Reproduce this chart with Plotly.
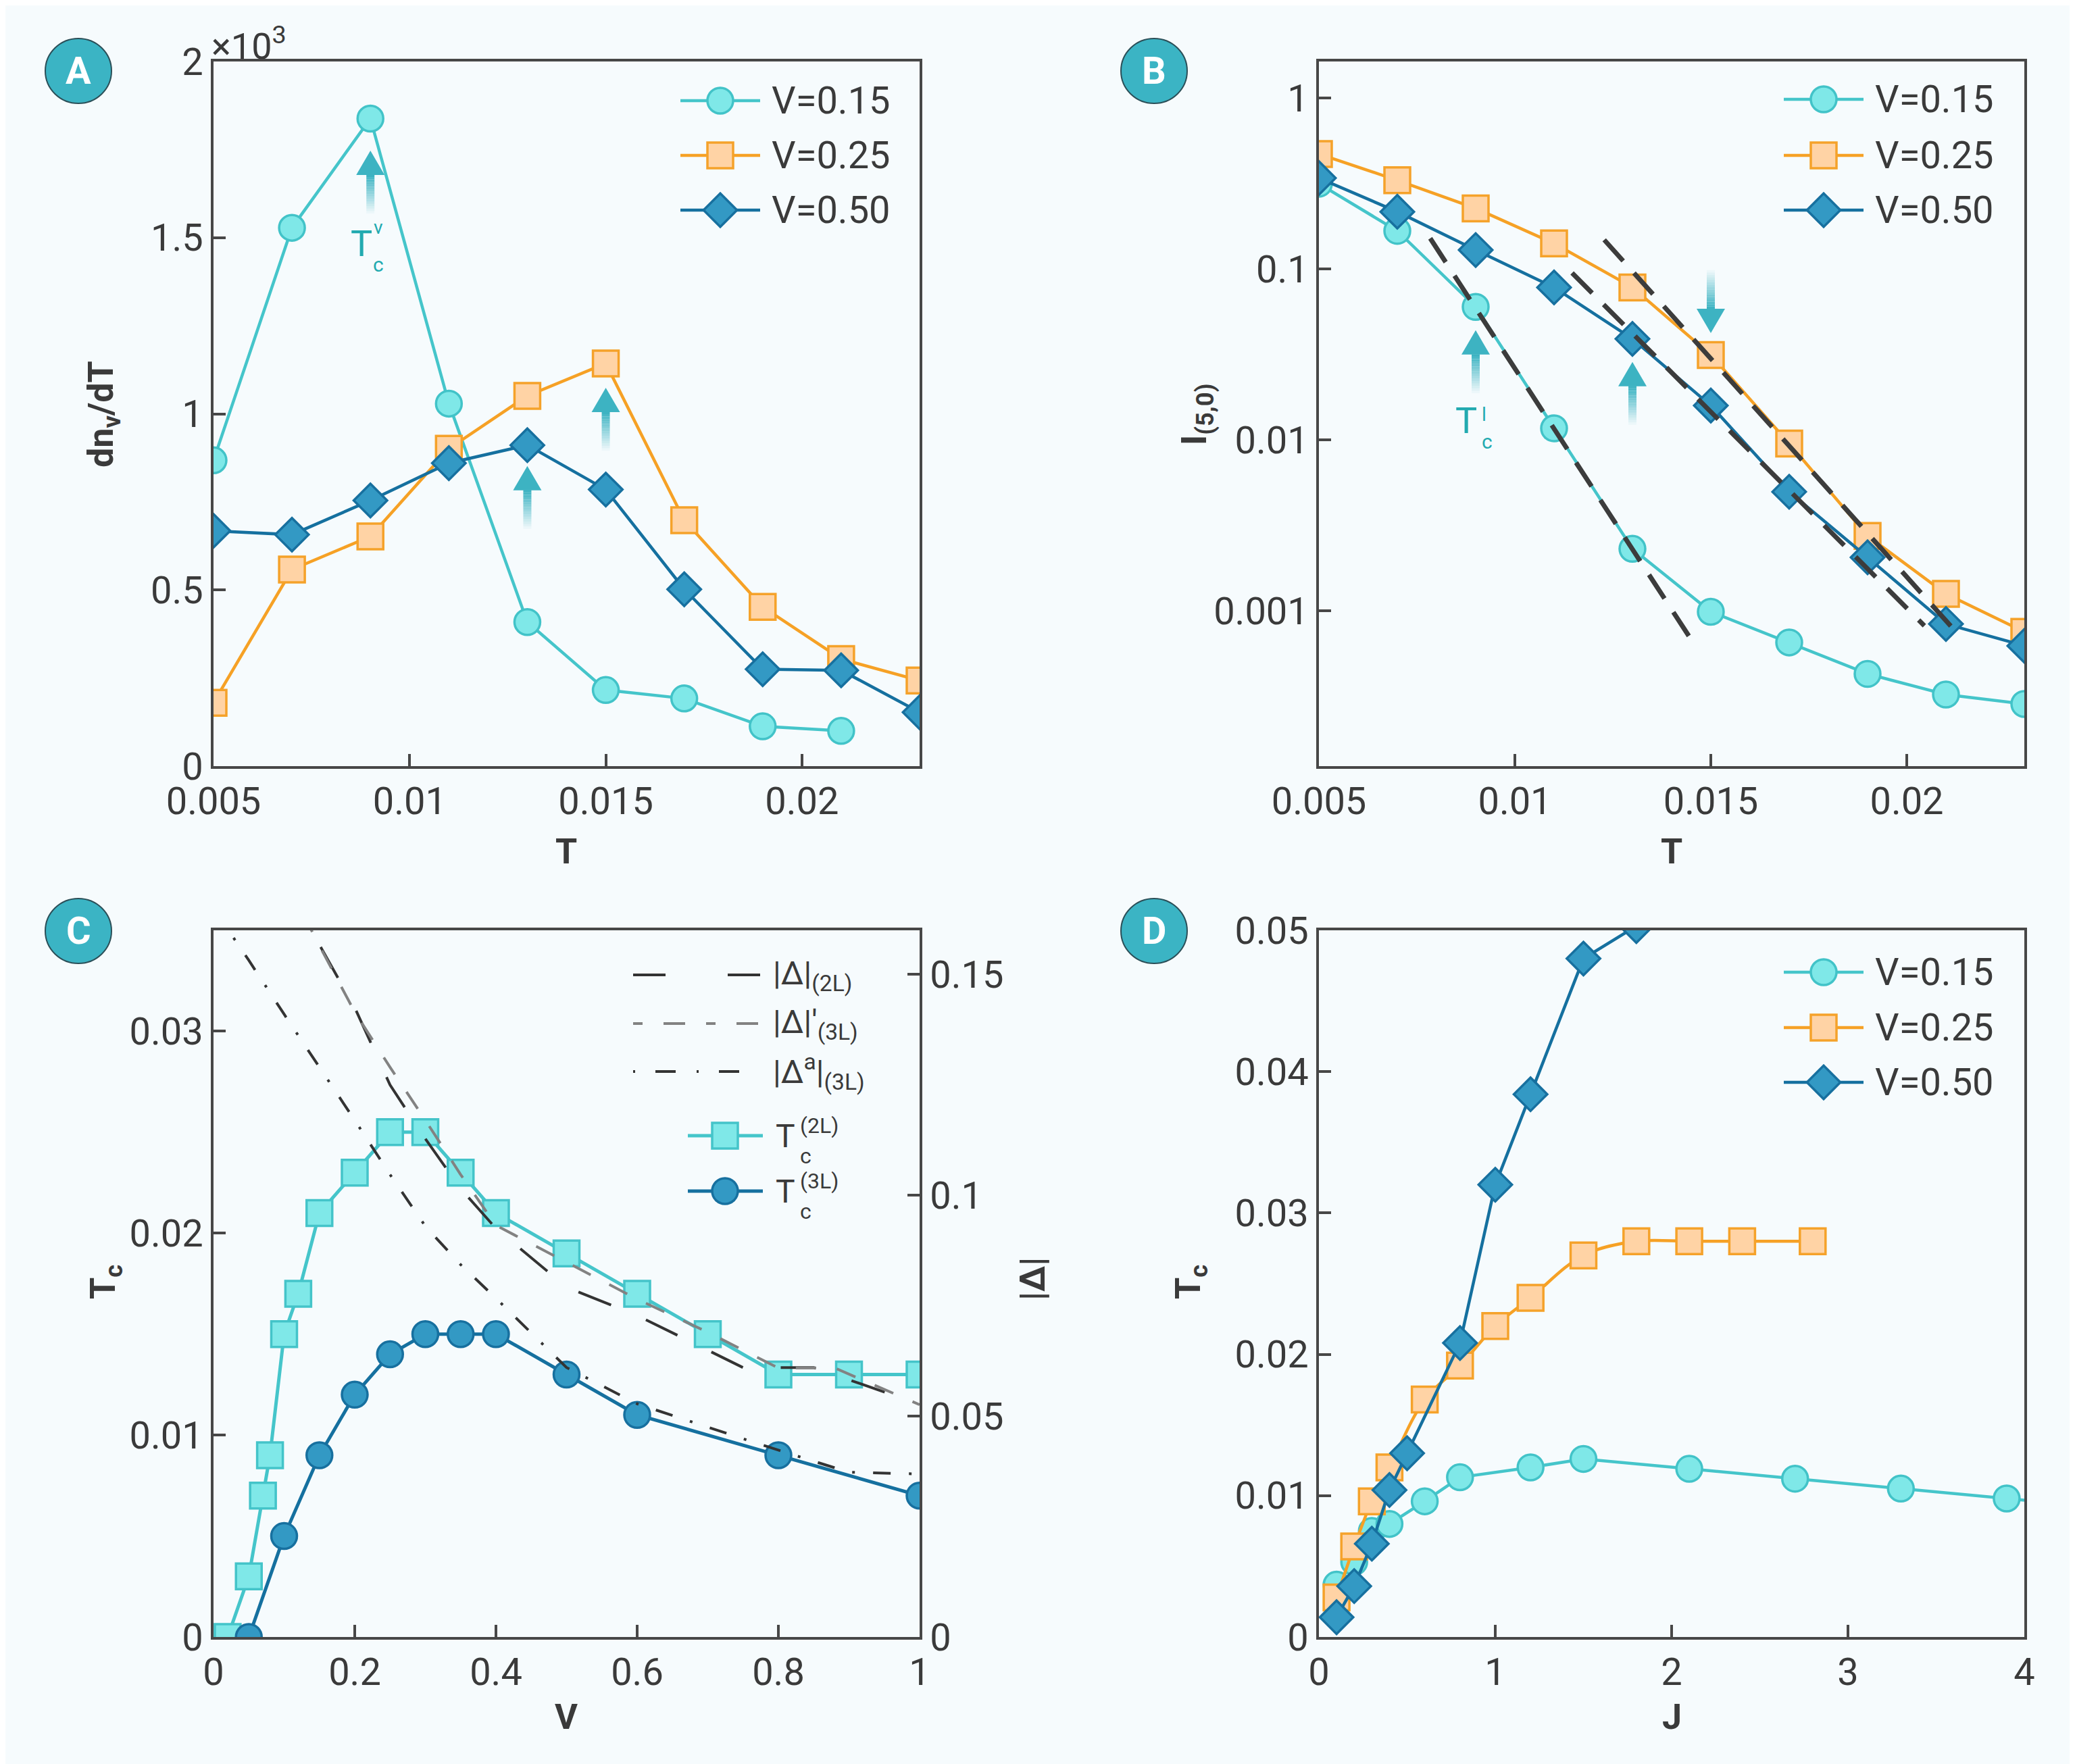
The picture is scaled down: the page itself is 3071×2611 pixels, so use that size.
import plotly.graph_objects as go

W, H = 3071, 2611

# ---------------- data ----------------
# panel A : dn_v/dT (x10^3) vs T
T_a = [0.005, 0.007, 0.009, 0.011, 0.013, 0.015, 0.017, 0.019, 0.021, 0.023]
dndT_v015 = [0.868, 1.528, 1.838, 1.029, 0.409, 0.216, 0.192, 0.113, 0.100]
dndT_v025 = [0.180, 0.558, 0.652, 0.901, 1.051, 1.143, 0.698, 0.452, 0.304, 0.243]
dndT_v050 = [0.668, 0.657, 0.754, 0.860, 0.911, 0.785, 0.502, 0.275, 0.272, 0.153]

# panel B : I_(5,0) vs T (log)
T_b = [0.005, 0.007, 0.009, 0.011, 0.013, 0.015, 0.017, 0.019, 0.021, 0.023]
I_v015 = [0.315, 0.167, 0.060, 0.0117, 0.00231, 0.00099, 0.000655, 0.000429, 0.000325, 0.000286]
I_v025 = [0.47, 0.33, 0.226, 0.141, 0.078, 0.0314, 0.00953, 0.00275, 0.00126, 0.000755]
I_v050 = [0.34, 0.216, 0.129, 0.078, 0.039, 0.0159, 0.00498, 0.00206, 0.00084, 0.000626]
fit1_T = [0.00784, 0.01447]
fit1_I = [0.151, 0.000697]
fit2_T = [0.01146, 0.02045]
fit2_I = [0.0948, 0.00082]
fit3_T = [0.01228, 0.02116]
fit3_I = [0.148, 0.00080]

# panel C : Tc vs V and gap |Delta| vs V
V_2L = [0.02, 0.05, 0.07, 0.08, 0.1, 0.12, 0.15, 0.2, 0.25, 0.3, 0.35, 0.4, 0.5, 0.6, 0.7, 0.8, 0.9, 1.0]
Tc_2L = [0, 0.003, 0.007, 0.009, 0.015, 0.017, 0.021, 0.023, 0.025, 0.025, 0.023, 0.021, 0.019,
         0.017, 0.015, 0.013, 0.013, 0.013]
V_3L = [0.05, 0.1, 0.15, 0.2, 0.25, 0.3, 0.35, 0.4, 0.5, 0.6, 0.8, 1.0]
Tc_3L = [0, 0.005, 0.009, 0.012, 0.014, 0.015, 0.015, 0.015, 0.013, 0.011, 0.009, 0.007]
V_gap2L = [0.1, 0.15, 0.2, 0.25, 0.3, 0.35, 0.4, 0.5, 0.6, 0.7, 0.75, 0.85, 1.0]
gap_2L = [0.1705, 0.1567, 0.1425, 0.125, 0.1128, 0.1015, 0.0925, 0.0792, 0.0728, 0.065, 0.061, 0.061, 0.0527]
V_gap3L = [0.1, 0.15, 0.2, 0.25, 0.3, 0.35, 0.4, 0.5, 0.6, 0.7, 0.8, 0.88, 1.0]
gap_3L = [0.172, 0.1565, 0.1415, 0.129, 0.117, 0.1047, 0.0932, 0.0848, 0.0765, 0.069, 0.0609, 0.0609, 0.0526]
V_gapa = [0.0, 0.05, 0.1, 0.15, 0.2, 0.25, 0.3, 0.35, 0.4, 0.5, 0.6, 0.7, 0.8, 0.9, 1.0]
gap_a3L = [0.165, 0.1532, 0.141, 0.129, 0.117, 0.1047, 0.093, 0.0843, 0.0767, 0.061, 0.0528, 0.0475,
           0.0423, 0.0373, 0.0369]

# panel D : Tc vs J
J_v015 = [0.1, 0.2, 0.3, 0.4, 0.6, 0.8, 1.2, 1.5, 2.1, 2.7, 3.3, 3.9, 4.5]
Tc_v015 = [0.0037, 0.0053, 0.0075, 0.0080, 0.0096, 0.0113, 0.0120, 0.0126, 0.0119, 0.0112, 0.0105, 0.0098, 0.0091]
J_v025 = [0.1, 0.2, 0.3, 0.4, 0.6, 0.8, 1.0, 1.2, 1.5, 1.8, 2.1, 2.4, 2.8]
Tc_v025 = [0.0028, 0.0064, 0.0096, 0.0120, 0.0168, 0.0192, 0.0220, 0.0240, 0.0270, 0.0280, 0.0280, 0.0280, 0.0280]
J_v050 = [0.1, 0.2, 0.3, 0.4, 0.5, 0.8, 1.0, 1.2, 1.5, 1.8]
Tc_v050 = [0.0014, 0.0036, 0.0066, 0.0104, 0.0130, 0.0208, 0.0320, 0.0384, 0.0480, 0.0503]

series_names = ['V=0.15', 'V=0.25', 'V=0.50']

# ---------------- styles ----------------
BG = '#f6fbfd'
AX = '#474747'
TXT = '#3a3a3a'
FONT = 'Roboto'
CYAN = dict(line='#45c5ca', fill='#7fe8e8', edge='#42c3c8', symbol='circle')
ORANGE = dict(line='#f6a125', fill='#ffd3a5', edge='#f5a22a', symbol='square')
BLUE = dict(line='#15709f', fill='#3399c4', edge='#17709f', symbol='diamond')
ARROW = '#3db3c2'
LBL = '#22aab0'
MS = 38


def px(x):
    return x / W


def py(y):
    return 1 - y / H


def series(x, y, st, xa, ya, shape='linear'):
    return go.Scatter(x=x, y=y, xaxis=xa, yaxis=ya, mode='lines+markers', showlegend=False,
                      line=dict(color=st['line'], width=4.5, shape=shape),
                      marker=dict(symbol=st['symbol'], size=MS, color=st['fill'],
                                  line=dict(color=st['edge'], width=3.5)))


fig = go.Figure()

# panel A
fig.add_trace(series(T_a[:len(dndT_v015)], dndT_v015, CYAN, 'x', 'y'))
fig.add_trace(series(T_a, dndT_v025, ORANGE, 'x', 'y'))
fig.add_trace(series(T_a, dndT_v050, BLUE, 'x', 'y'))

# panel B
fig.add_trace(series(T_b, I_v015, CYAN, 'x2', 'y2'))
fig.add_trace(series(T_b, I_v025, ORANGE, 'x2', 'y2'))
fig.add_trace(series(T_b, I_v050, BLUE, 'x2', 'y2'))
for fx, fy in [(fit1_T, fit1_I), (fit2_T, fit2_I), (fit3_T, fit3_I)]:
    fig.add_trace(go.Scatter(x=fx, y=fy, xaxis='x2', yaxis='y2', mode='lines', showlegend=False,
                             line=dict(color='#3c3c3c', width=7, dash='42px,24px')))

# panel C
fig.add_trace(go.Scatter(x=V_2L, y=Tc_2L, xaxis='x3', yaxis='y3', mode='lines+markers', showlegend=False,
                         line=dict(color='#45c5ca', width=5),
                         marker=dict(symbol='square', size=MS, color='#7fe8e8',
                                     line=dict(color='#44c4c9', width=3.5))))
fig.add_trace(go.Scatter(x=V_3L, y=Tc_3L, xaxis='x3', yaxis='y3', mode='lines+markers', showlegend=False,
                         line=dict(color='#15709f', width=5),
                         marker=dict(symbol='circle', size=MS, color='#3399c4',
                                     line=dict(color='#17709f', width=3.5))))
DASH_2L = dict(color='#333333', width=4, dash='52px,56px')
DASH_3L = dict(color='#828282', width=4, dash='30px,31px')
DASH_A = dict(color='#333333', width=4, dash='26px,27px,4px,27px')
fig.add_trace(go.Scatter(x=V_gap2L, y=gap_2L, xaxis='x3', yaxis='y4', mode='lines', showlegend=False, line=DASH_2L))
fig.add_trace(go.Scatter(x=V_gap3L, y=gap_3L, xaxis='x3', yaxis='y4', mode='lines', showlegend=False, line=DASH_3L))
fig.add_trace(go.Scatter(x=V_gapa, y=gap_a3L, xaxis='x3', yaxis='y4', mode='lines', showlegend=False, line=DASH_A))

# panel D
fig.add_trace(series(J_v015, Tc_v015, CYAN, 'x4', 'y5'))
fig.add_trace(series(J_v025, Tc_v025, ORANGE, 'x4', 'y5', shape='spline'))
fig.add_trace(series(J_v050, Tc_v050, BLUE, 'x4', 'y5'))

# ---------------- axes ----------------
xA = [px(308), px(1353)]
xB = [px(1944), px(2988)]
yTop = [py(1126), py(83)]
yBot = [py(2415), py(1369)]

base = dict(showline=True, linewidth=4, linecolor=AX, mirror=True, ticks='inside', ticklen=18,
            tickwidth=4, tickcolor=AX, showgrid=False, zeroline=False, automargin=False,
            tickfont=dict(family=FONT, size=56, color=TXT))

fig.update_layout(
    xaxis=dict(base, domain=xA, anchor='y', range=[0.005, 0.023],
               tickvals=[0.005, 0.01, 0.015, 0.02], ticktext=['0.005', '0.01', '0.015', '0.02']),
    yaxis=dict(base, domain=yTop, anchor='x', range=[0, 2],
               tickvals=[0, 0.5, 1, 1.5, 2], ticktext=['0', '0.5', '1', '1.5', '2']),
    xaxis2=dict(base, domain=xB, anchor='y2', range=[0.005, 0.023],
                tickvals=[0.005, 0.01, 0.015, 0.02], ticktext=['0.005', '0.01', '0.015', '0.02']),
    yaxis2=dict(base, domain=yTop, anchor='x2', type='log', range=[-3.907, 0.213],
                tickvals=[0.001, 0.01, 0.1, 1], ticktext=['0.001', '0.01', '0.1', '1']),
    xaxis3=dict(base, domain=xA, anchor='y3', range=[0, 1],
                tickvals=[0, 0.2, 0.4, 0.6, 0.8, 1], ticktext=['0', '0.2', '0.4', '0.6', '0.8', '1']),
    yaxis3=dict(base, domain=yBot, anchor='x3', range=[0, 0.035],
                tickvals=[0, 0.01, 0.02, 0.03], ticktext=['0', '0.01', '0.02', '0.03']),
    yaxis4=dict(base, domain=yBot, anchor='x3', overlaying='y3', side='right', mirror=False,
                range=[0, 0.16], tickvals=[0, 0.05, 0.1, 0.15], ticktext=['0', '0.05', '0.1', '0.15']),
    xaxis4=dict(base, domain=xB, anchor='y5', range=[0, 4],
                tickvals=[0, 1, 2, 3, 4], ticktext=['0', '1', '2', '3', '4']),
    yaxis5=dict(base, domain=yBot, anchor='x4', range=[0, 0.05],
                tickvals=[0, 0.01, 0.02, 0.03, 0.04, 0.05],
                ticktext=['0', '0.01', '0.02', '0.03', '0.04', '0.05']),
)

shapes = []
annotations = []


def text(x, y, s, size=56, color=TXT, xanchor='left', angle=0, weight='normal', **kw):
    annotations.append(dict(x=px(x), y=py(y), xref='paper', yref='paper', text=s, showarrow=False,
                            xanchor=xanchor, yanchor='middle', textangle=angle,
                            font=dict(family=FONT, size=size, color=color, weight=weight), **kw))


def marker_shape(x, y, st, r=19):
    common = dict(xref='paper', yref='paper', xsizemode='pixel', ysizemode='pixel',
                  xanchor=px(x), yanchor=py(y), fillcolor=st['fill'],
                  line=dict(color=st['edge'], width=3.5), layer='above')
    if st['symbol'] == 'circle':
        return dict(common, type='circle', x0=-r, x1=r, y0=-r, y1=r)
    if st['symbol'] == 'square':
        return dict(common, type='rect', x0=-r, x1=r, y0=-r, y1=r)
    d = r * 1.3
    return dict(common, type='path', path=f'M{d},0L0,{d}L{-d},0L0,{-d}Z')


def line_shape(x0, x1, y, line):
    return dict(type='line', xref='paper', yref='paper', x0=px(x0), x1=px(x1), y0=py(y), y1=py(y),
                line=line, layer='above')


def legend_block(lx0, lx1, mx, tx, rows):
    for st, name, row in zip([CYAN, ORANGE, BLUE], series_names, rows):
        shapes.append(line_shape(lx0, lx1, row, dict(color=st['line'], width=4.5)))
        shapes.append(marker_shape(mx, row, st))
        text(tx, row, name)


legend_block(999, 1117, 1058, 1132, [141, 222, 303])
legend_block(2632, 2750, 2691, 2765, [139, 222, 303])
legend_block(2632, 2750, 2691, 2765, [1431, 1513, 1594])

# panel C legend
shapes.append(line_shape(929, 1117, 1435, dict(color='#333333', width=4, dash='48px,92px')))
shapes.append(line_shape(929, 1117, 1507, dict(color='#828282', width=4, dash='14px,31px,32px,31px')))
shapes.append(line_shape(929, 1117, 1578, dict(color='#333333', width=4, dash='3px,30px,30px,31px')))
text(1134, 1435, '|Δ|<sub>(2L)</sub>', size=48)
text(1134, 1507, '|Δ|′<sub>(3L)</sub>', size=48)
text(1134, 1578, '|Δ<sup>a</sup>|<sub>(3L)</sub>', size=48)
C2 = dict(fill='#7fe8e8', edge='#44c4c9', symbol='square')
C3 = dict(fill='#3399c4', edge='#17709f', symbol='circle')
for st, lc, row, sup in [(C2, '#45c5ca', 1673, '(2L)'), (C3, '#15709f', 1755, '(3L)')]:
    shapes.append(line_shape(1010, 1121, row, dict(color=lc, width=5)))
    shapes.append(marker_shape(1065, row, st))
    text(1138, row, 'T', size=48)
    text(1174, row - 15, sup, size=32)
    text(1174, row + 30, 'c', size=32)


# gradient arrows (tip anchored on data coordinates, sizes in pixels)
def arrow(xref, yref, x, y, up=True):
    s = 1 if up else -1
    pix = dict(type='path', xref=xref, yref=yref, xsizemode='pixel', ysizemode='pixel',
               xanchor=x, yanchor=y, line=dict(width=0), layer='above')
    shapes.append(dict(pix, path=f'M0,0L-21,{-s * 36}L21,{-s * 36}Z', fillcolor=ARROW))
    n, seg = 16, 3.6
    for i in range(n):
        a, b = -s * (35.5 + i * seg), -s * (35.5 + (i + 1) * seg)
        shapes.append(dict(pix, path=f'M-6,{a}L6,{a}L6,{b}L-6,{b}Z', fillcolor=ARROW,
                           opacity=round(1 - (i / (n - 1)) * 0.95, 3)))


arrow('x', 'y', 0.009, 1.747)
arrow('x', 'y', 0.013, 0.852)
arrow('x', 'y', 0.015, 1.074)
arrow('x2', 'y2', 0.009, 0.0438)
arrow('x2', 'y2', 0.013, 0.0286)
arrow('x2', 'y2', 0.015, 0.0422, up=False)


def tc_label(xref, yref, x, y, sup, sup_shift, sub_shift):
    f = dict(family=FONT, color=LBL)
    annotations.append(dict(x=x, y=y, xref=xref, yref=yref, text='T', showarrow=False,
                            font=dict(f, size=54)))
    annotations.append(dict(x=x, y=y, xref=xref, yref=yref, text=sup, showarrow=False,
                            xshift=sup_shift[0], yshift=sup_shift[1], font=dict(f, size=28)))
    annotations.append(dict(x=x, y=y, xref=xref, yref=yref, text='c', showarrow=False,
                            xshift=sub_shift[0], yshift=sub_shift[1], font=dict(f, size=30)))


tc_label('x', 'y', 0.00877, 1.484, 'v', (25, 24), (25, -31))
tc_label('x2', 'y2', 0.00876, -1.888, 'l', (26, 9), (31, -31))

# x10^3
text(303, 56, '×10<sup>3</sup>', size=54)

# axis titles
text(830, 1252, 'T', size=52, xanchor='center', weight='bold')
text(2466, 1252, 'T', size=52, xanchor='center', weight='bold')
text(830, 2533, 'V', size=52, xanchor='center', weight='bold')
text(2466, 2533, 'J', size=52, xanchor='center', weight='bold')
text(145, 605, 'dn<sub>v</sub>/dT', size=52, xanchor='center', angle=-90, weight='bold')
text(1763, 605, 'I<sub>(5,0)</sub>', size=52, xanchor='center', angle=-90, weight='bold')
text(148, 1890, 'T<sub>c</sub>', size=52, xanchor='center', angle=-90, weight='bold')
text(1754, 1890, 'T<sub>c</sub>', size=52, xanchor='center', angle=-90, weight='bold')
text(1520, 1885, '|Δ|', size=52, xanchor='center', angle=-90, weight='bold')

# panel badges
for lab, cx, cy in [('A', 108, 97), ('B', 1700, 97), ('C', 108, 1370), ('D', 1700, 1370)]:
    shapes.append(dict(type='circle', xref='paper', yref='paper', xsizemode='pixel', ysizemode='pixel',
                       xanchor=px(cx), yanchor=py(cy), x0=-49, x1=49, y0=-48, y1=48,
                       fillcolor='#3bb4c4', line=dict(color='#2b4f58', width=2)))
    text(cx, cy, lab, size=56, color='white', xanchor='center', weight='bold')

fig.update_layout(width=W, height=H, margin=dict(l=0, r=0, t=0, b=0),
                  paper_bgcolor=BG, plot_bgcolor=BG, shapes=shapes, annotations=annotations,
                  font=dict(family=FONT, color=TXT), showlegend=False)

fig.write_html("out.html")
